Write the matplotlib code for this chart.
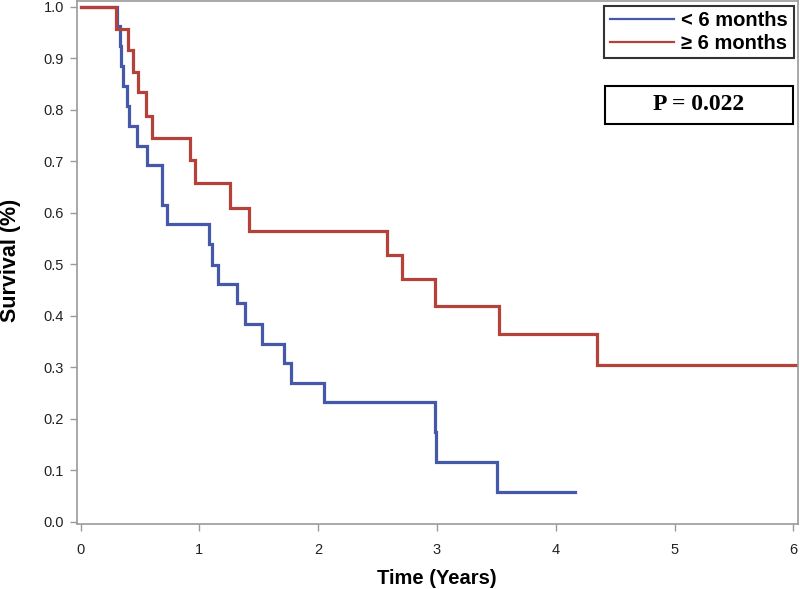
import matplotlib
matplotlib.use("Agg")
import matplotlib.pyplot as plt

# ---- data ----
blue_times = [0.0, 0.305, 0.333, 0.343, 0.36, 0.389, 0.408, 0.478, 0.562, 0.683, 0.69, 0.73,
              1.084, 1.11, 1.16, 1.315, 1.385, 1.53, 1.715, 1.77, 2.05, 2.987, 2.995, 3.51, 4.16]
blue_surv = [1.0, 0.962, 0.923, 0.884, 0.846, 0.808, 0.769, 0.730, 0.692, 0.656, 0.615, 0.578,
             0.539, 0.498, 0.461, 0.424, 0.385, 0.346, 0.308, 0.270, 0.232, 0.174, 0.116, 0.059, 0.059]

red_times = [0.0, 0.30, 0.40, 0.44, 0.48, 0.55, 0.60, 0.92, 0.96, 1.26, 1.42,
             2.577, 2.71, 2.985, 3.525, 4.35, 6.05]
red_surv = [1.0, 0.956, 0.916, 0.874, 0.834, 0.788, 0.746, 0.702, 0.658, 0.609, 0.564,
            0.518, 0.472, 0.419, 0.365, 0.305, 0.305]

labels = ["< 6 months", "\u2265 6 months"]
x_ticks = [0, 1, 2, 3, 4, 5, 6]
y_ticks = [0.0, 0.1, 0.2, 0.3, 0.4, 0.5, 0.6, 0.7, 0.8, 0.9, 1.0]
p_text = "P = 0.022"

BLUE = "#4658A9"
RED = "#B5423A"
GRAY = "#9a9a9a"
sans = ["Liberation Sans", "DejaVu Sans"]
serif = ["Liberation Serif", "DejaVu Serif"]

fig = plt.figure(figsize=(8, 5.89), dpi=100)
W, H = 800, 589
ax_l, ax_r, ax_t, ax_b = 76.7, 798.3, 1.0, 524.0
ax = fig.add_axes([ax_l / W, 1 - ax_b / H, (ax_r - ax_l) / W, (ax_b - ax_t) / H])

lb, = ax.step(blue_times, blue_surv, where="post", color=BLUE, lw=2.3, solid_joinstyle="miter")
lr, = ax.step(red_times, red_surv, where="post", color=RED, lw=2.3, solid_joinstyle="miter")

ax.set_xlim(-0.032, 6.042)
ax.set_ylim(-0.004, 1.011)
ax.set_xticks(x_ticks)
ax.set_yticks(y_ticks)
ax.set_xticklabels([str(t) for t in x_ticks], family=sans, fontsize=10.5, color="#222222")
ax.set_yticklabels(["%.1f" % t for t in y_ticks], family=sans, fontsize=10.5, color="#222222")
ax.tick_params(direction="out", length=5, width=1, color=GRAY)
ax.tick_params(axis="x", pad=9)
ax.tick_params(axis="y", pad=4)
for s in ax.spines.values():
    s.set_color(GRAY)
    s.set_linewidth(1.2)


def ax_coords(px, py):
    return ((px - ax_l) / (ax_r - ax_l), (ax_b - py) / (ax_b - ax_t))


ax.set_xlabel("Time (Years)", family=sans, fontsize=14.5, fontweight="bold", va="center")
ax.set_ylabel("Survival (%)", family=sans, fontsize=15.5, fontweight="bold", va="center")
ax.xaxis.set_label_coords(*ax_coords(437, 578))
ax.yaxis.set_label_coords(*ax_coords(11, 260))

# legend
leg = ax.legend([lb, lr], labels, loc="upper right", bbox_to_anchor=ax_coords(793.5, 5.5),
                borderaxespad=0, frameon=True, fancybox=False, handlelength=3.2,
                handletextpad=0.35, borderpad=0.27, labelspacing=0.2,
                prop={"family": sans, "size": 14.5, "weight": "bold"})
leg.get_frame().set_edgecolor("black")
leg.get_frame().set_linewidth(1.5)
for h in leg.get_lines():
    h.set_linewidth(1.6)

# P value box
x0, y0 = ax_coords(605, 124)
x1, y1 = ax_coords(792.8, 85.7)
rect = plt.Rectangle((x0, y0), x1 - x0, y1 - y0, transform=ax.transAxes, fill=False,
                     edgecolor="black", linewidth=1.5, clip_on=False)
ax.add_patch(rect)
ax.text((x0 + x1) / 2, (y0 + y1) / 2, p_text, transform=ax.transAxes, ha="center", va="center",
        family=serif, fontsize=17, fontweight="bold")

fig.savefig("out.png", dpi=100)
